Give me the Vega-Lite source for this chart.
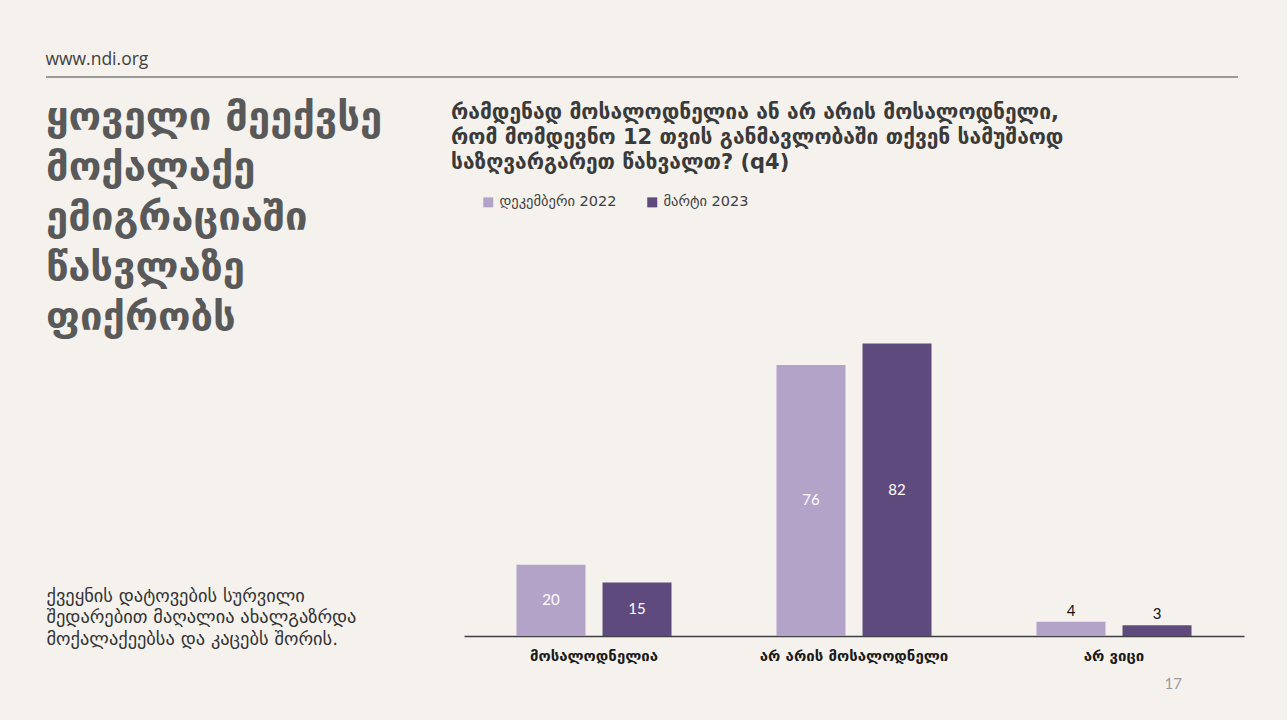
{
  "$schema": "https://vega.github.io/schema/vega-lite/v6.json",
  "background": "#f5f2ee",
  "padding": {"left": 45, "top": 50, "right": 43, "bottom": 29},
  "title": {
    "text": "17",
    "orient": "bottom",
    "anchor": "end",
    "dx": -62,
    "offset": 14,
    "font": "Lato",
    "fontSize": 15,
    "fontWeight": "normal",
    "color": "#9a9a9a"
  },
  "resolve": {"scale": {"color": "independent"}, "legend": {"color": "independent"}},
  "vconcat": [
    {
      "title": {
        "text": "www.ndi.org",
        "anchor": "start",
        "font": "Open Sans",
        "fontSize": 17.5,
        "fontWeight": "normal",
        "color": "#404040",
        "offset": 8
      },
      "width": 1192,
      "height": 1,
      "data": {"values": [{"edge": 0}]},
      "mark": {"type": "rule", "color": "#404040", "strokeWidth": 1.2},
      "encoding": {
        "y": {"field": "edge", "type": "quantitative", "axis": null, "scale": {"domain": [0, 1]}}
      }
    },
    {
      "resolve": {"scale": {"color": "independent"}, "legend": {"color": "independent"}},
      "hconcat": [
        {
          "title": {
            "text": ["ყოველი მეექვსე", "მოქალაქე", "ემიგრაციაში", "წასვლაზე", "ფიქრობს"],
            "anchor": "start",
            "font": "DejaVu Sans",
            "fontSize": 40,
            "fontWeight": "bold",
            "lineHeight": 50,
            "color": "#595959",
            "offset": -23
          },
          "width": 370,
          "height": 271,
          "data": {"values": []},
          "mark": "text",
          "encoding": {
            "x": {
              "field": "note",
              "type": "quantitative",
              "axis": {
                "title": ["ქვეყნის დატოვების სურვილი", "შედარებით მაღალია ახალგაზრდა", "მოქალაქეებსა და კაცებს შორის."],
                "domain": false,
                "ticks": false,
                "labels": false,
                "grid": false,
                "titleAnchor": "start",
                "titleAlign": "left",
                "titleBaseline": "top",
                "titleFont": "DejaVu Sans",
                "titleFontSize": 18.4,
                "titleFontWeight": "normal",
                "titleLineHeight": 21.5,
                "titleColor": "#333333",
                "titlePadding": 0
              }
            }
          }
        },
        {
          "title": {
            "text": ["რამდენად მოსალოდნელია ან არ არის მოსალოდნელი,", "რომ მომდევნო 12 თვის განმავლობაში თქვენ სამუშაოდ", "საზღვარგარეთ წახვალთ? (q4)"],
            "anchor": "start",
            "dx": -13,
            "font": "DejaVu Sans",
            "fontSize": 21,
            "fontWeight": "bold",
            "lineHeight": 25,
            "color": "#3a3a3a",
            "offset": 22
          },
          "width": 780,
          "height": 321,
          "data": {
            "values": [
              {"answer": "მოსალოდნელია", "wave": "დეკემბერი 2022", "pct": 20},
              {"answer": "მოსალოდნელია", "wave": "მარტი 2023", "pct": 15},
              {"answer": "არ არის მოსალოდნელი", "wave": "დეკემბერი 2022", "pct": 76},
              {"answer": "არ არის მოსალოდნელი", "wave": "მარტი 2023", "pct": 82},
              {"answer": "არ ვიცი", "wave": "დეკემბერი 2022", "pct": 4},
              {"answer": "არ ვიცი", "wave": "მარტი 2023", "pct": 3}
            ]
          },
          "encoding": {
            "x": {
              "field": "answer",
              "type": "nominal",
              "sort": null,
              "title": null,
              "scale": {"paddingInner": 0, "paddingOuter": 0},
              "axis": {
                "labelAngle": 0,
                "ticks": false,
                "labelPadding": 12,
                "labelLimit": 0,
                "labelFont": "DejaVu Sans",
                "labelFontSize": 15,
                "labelFontWeight": "bold",
                "labelColor": "#1a1a1a",
                "domainColor": "#404040",
                "domainWidth": 1.5
              }
            },
            "xOffset": {
              "field": "wave",
              "type": "nominal",
              "sort": null,
              "scale": {"paddingInner": 0.198, "paddingOuter": 0.61}
            }
          },
          "layer": [
            {
              "mark": {"type": "bar"},
              "encoding": {
                "y": {"field": "pct", "type": "quantitative", "axis": null, "scale": {"domain": [0, 90]}},
                "color": {
                  "field": "wave",
                  "type": "nominal",
                  "sort": null,
                  "scale": {"range": ["#b3a3c8", "#5f4a7d"]},
                  "legend": {
                    "title": null,
                    "orient": "none",
                    "legendX": 17,
                    "legendY": -120,
                    "direction": "horizontal",
                    "symbolType": "square",
                    "symbolSize": 100,
                    "symbolStrokeWidth": 0,
                    "labelFont": "DejaVu Sans",
                    "labelFontSize": 14.5,
                    "labelColor": "#404040",
                    "columnPadding": 28
                  }
                }
              }
            },
            {
              "transform": [{"filter": "datum.pct >= 10"}],
              "mark": {"type": "text", "color": "white", "font": "Lato", "fontSize": 15, "baseline": "middle"},
              "encoding": {
                "y": {"field": "pct", "type": "quantitative", "axis": null, "scale": {"domain": [0, 180]}},
                "text": {"field": "pct", "type": "quantitative"}
              }
            },
            {
              "transform": [{"filter": "datum.pct < 10"}],
              "mark": {"type": "text", "color": "#111111", "font": "Lato", "fontSize": 15, "baseline": "bottom", "dy": -3},
              "encoding": {
                "y": {"field": "pct", "type": "quantitative", "axis": null, "scale": {"domain": [0, 90]}},
                "text": {"field": "pct", "type": "quantitative"}
              }
            }
          ],
          "resolve": {"scale": {"y": "independent"}}
        }
      ],
      "spacing": 35
    }
  ],
  "spacing": 20,
  "config": {
    "view": {"stroke": null},
    "font": "DejaVu Sans"
  }
}
